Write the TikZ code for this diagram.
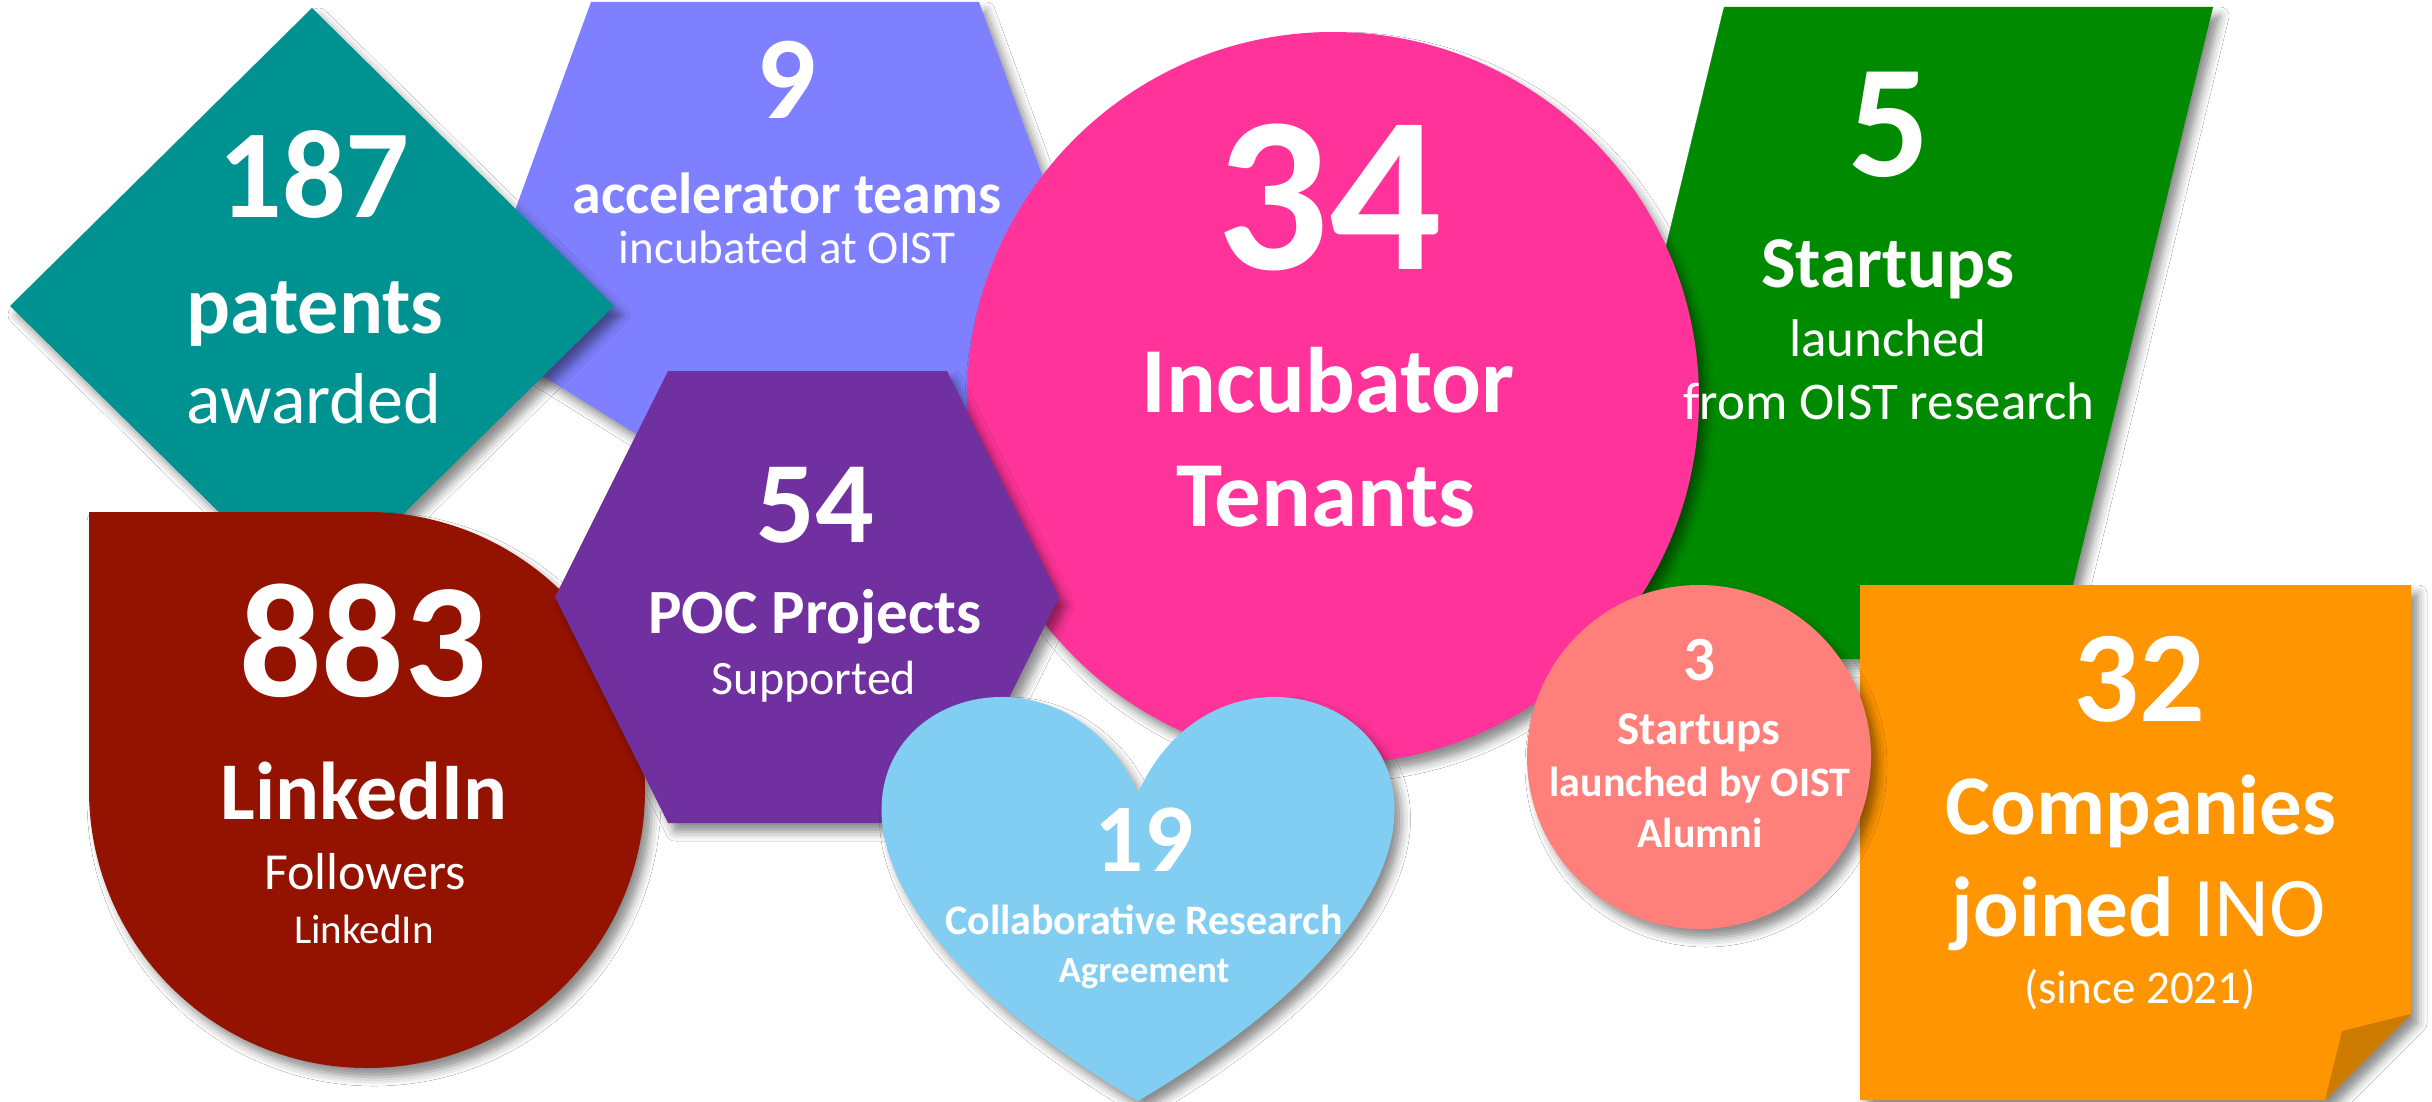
\documentclass[tikz,border=0pt]{standalone}
\usepackage{fontspec}
\setmainfont{Carlito}
\usetikzlibrary{shadows.blur}
\definecolor{cTeal}{RGB}{0,145,145}
\definecolor{cLav}{RGB}{127,128,255}
\definecolor{cPink}{RGB}{255,51,153}
\definecolor{cGreen}{RGB}{0,138,0}
\definecolor{cPurple}{RGB}{112,48,160}
\definecolor{cMaroon}{RGB}{148,18,0}
\definecolor{cBlue}{RGB}{130,205,242}
\definecolor{cSalmon}{RGB}{255,127,122}
\definecolor{cOrange}{RGB}{255,149,0}
\definecolor{cFold}{RGB}{204,122,0}
\newcommand\fsz[1]{\fontsize{#1pt}{#1pt}\selectfont}
\begin{document}
\begin{tikzpicture}[x=1pt,y=-1pt,
  shp/.style={blur shadow={shadow xshift=7pt, shadow yshift=-9pt, shadow blur radius=9pt, shadow opacity=45}},
  lbl/.style={text=white, inner sep=0pt, anchor=base},
  bnum/.style={lbl, font=\bfseries\fsz{#1}},
  breg/.style={lbl, font=\bfseries\fsz{#1}},
  rreg/.style={lbl, font=\fsz{#1}}]
\useasboundingbox (0,0) rectangle (2432,1102);
\fill[white] (0,0) rectangle (2432,1102);
\begin{scope}
\clip (0,0) rectangle (2432,1102);
% lavender hexagon
\path[shp, fill=cLav] (591,2) -- (979,2) -- (1099,331) -- (785,527) -- (471,331) -- cycle;
% teal diamond
\path[shp, fill=cTeal] (312,8) -- (614,306) -- (312,604) -- (10,306) -- cycle;
% green parallelogram
\path[shp, fill=cGreen] (1724,7) -- (2213,7) -- (2055,659) -- (1566,659) -- cycle;
% pink circle
\path[shp, fill=cPink] (1333,398) circle[radius=366];
% maroon teardrop
\path[shp, fill=cMaroon] (89,512) -- (367,512) arc[start angle=-90, end angle=180, radius=278] -- cycle;
% purple hexagon
\path[shp, fill=cPurple] (668,371) -- (947,371) -- (1059,597) -- (947,823) -- (668,823) -- (555,597) -- cycle;
% heart
\path[shp, fill=cBlue] (1138,793) .. controls (1244,557) and (1658,793) .. (1138,1101)
   .. controls (618,793) and (1032,557) .. (1138,793) -- cycle;
% orange note
\path[shp, fill=cOrange] (1860,585) -- (2411,585) -- (2411,1014) -- (2325,1100) -- (1860,1100) -- cycle;
\fill[cFold] (2411,1014) -- (2342,1031) -- (2325,1100) -- cycle;
% salmon circle
\path[shp, fill=cSalmon] (1699,757) circle[radius=172];
\end{scope}

% texts
\node[bnum=126] (n187) at (314,218) {187};
\node[breg=82] (tpat) at (315,333) {patents};
\node[rreg=72] (taw) at (314,423) {awarded};

\node[bnum=118] (n9) at (786,119) {9};
\node[breg=58] (tacc) at (787,214) {accelerator teams};
\node[rreg=47] (tinc) at (787,263) {incubated at OIST};

\node[bnum=222] (n34) at (1329,269) {34};
\node[breg=93] (tincub) at (1328,412) {Incubator};
\node[breg=93] (tten) at (1326,526) {Tenants};

\node[bnum=161] (n5) at (1889,177) {5};
\node[breg=73] (tst) at (1888,287) {Startups};
\node[rreg=53] (tla) at (1888,356) {launched};
\node[rreg=53] (tfr) at (1889,419) {from OIST research};

\node[bnum=116] (n54) at (815,542) {54};
\node[breg=63] (tpoc) at (815,633) {POC Projects};
\node[rreg=48] (tsup) at (814,694) {Supported};

\node[bnum=163] (n883) at (363,696) {883};
\node[breg=82] (tli) at (364,819) {LinkedIn};
\node[rreg=52] (tfo) at (365,889) {Followers};
\node[rreg=41] (tli2) at (364,943) {LinkedIn};

\node[bnum=97] (n19) at (1144,871) {19};
\node[breg=42] (tcol) at (1144,934) {Collaborative Research};
\node[breg=37] (tagr) at (1144,982) {Agreement};

\node[bnum=63] (n3) at (1699,680) {3};
\node[breg=47] (tst2) at (1699,744) {Startups};
\node[breg=42] (tlb) at (1700,796) {launched by OIST};
\node[breg=42] (tal) at (1700,847) {Alumni};

\node[bnum=130] (n32) at (2139,721) {32};
\node[breg=85] (tcom) at (2141,834) {Companies};
\node[lbl, font=\fsz{85}] (tjo) at (2139,936) {\textbf{joined} INO};
\node[rreg=47] (tsi) at (2140,1003) {(since 2021)};
\end{tikzpicture}
\end{document}
